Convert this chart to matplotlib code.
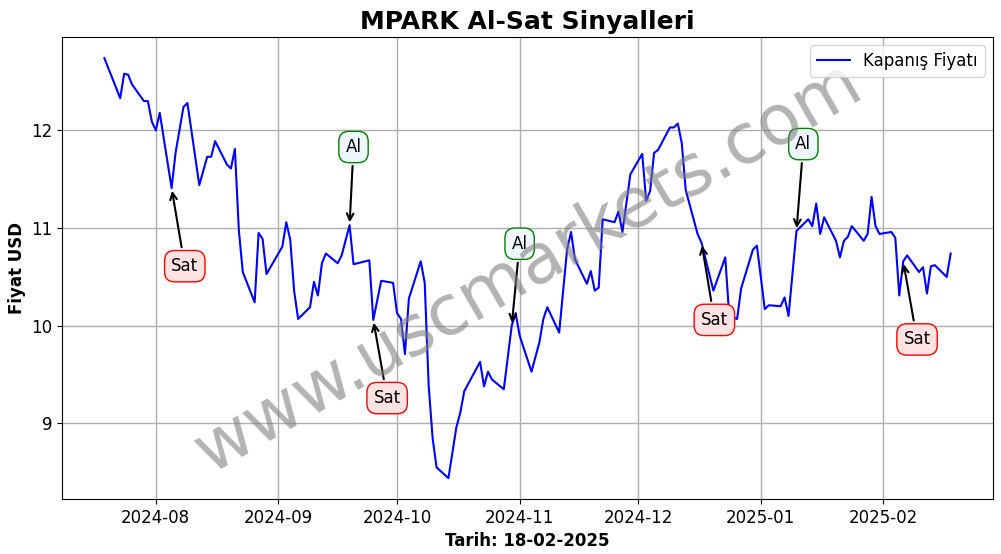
import matplotlib
matplotlib.use("Agg")
import matplotlib.pyplot as plt
import matplotlib.dates as mdates
import pandas as pd

# closing prices
dates = ['2024-07-19', '2024-07-23', '2024-07-24', '2024-07-25', '2024-07-26',
         '2024-07-29', '2024-07-30', '2024-07-31', '2024-08-01', '2024-08-02',
         '2024-08-05', '2024-08-06', '2024-08-08', '2024-08-09', '2024-08-12',
         '2024-08-14', '2024-08-15', '2024-08-16', '2024-08-19', '2024-08-20',
         '2024-08-21', '2024-08-22', '2024-08-23', '2024-08-26', '2024-08-27',
         '2024-08-28', '2024-08-29', '2024-09-02', '2024-09-03', '2024-09-04',
         '2024-09-05', '2024-09-06', '2024-09-09', '2024-09-10', '2024-09-11',
         '2024-09-12', '2024-09-13', '2024-09-16', '2024-09-17', '2024-09-19',
         '2024-09-20', '2024-09-24', '2024-09-25', '2024-09-27', '2024-09-30',
         '2024-10-01', '2024-10-02', '2024-10-03', '2024-10-04', '2024-10-07',
         '2024-10-08', '2024-10-09', '2024-10-10', '2024-10-11', '2024-10-14',
         '2024-10-16', '2024-10-17', '2024-10-18', '2024-10-22', '2024-10-23',
         '2024-10-24', '2024-10-25', '2024-10-28', '2024-10-30', '2024-10-31',
         '2024-11-01', '2024-11-04', '2024-11-06', '2024-11-07', '2024-11-08',
         '2024-11-11', '2024-11-13', '2024-11-14', '2024-11-15', '2024-11-18',
         '2024-11-19', '2024-11-20', '2024-11-21', '2024-11-22', '2024-11-25',
         '2024-11-26', '2024-11-27', '2024-11-29', '2024-12-02', '2024-12-03',
         '2024-12-04', '2024-12-05', '2024-12-06', '2024-12-09', '2024-12-10',
         '2024-12-11', '2024-12-12', '2024-12-13', '2024-12-16', '2024-12-17',
         '2024-12-20', '2024-12-23', '2024-12-24', '2024-12-26', '2024-12-27',
         '2024-12-30', '2024-12-31', '2025-01-02', '2025-01-03', '2025-01-06',
         '2025-01-07', '2025-01-08', '2025-01-10', '2025-01-13', '2025-01-14',
         '2025-01-15', '2025-01-16', '2025-01-17', '2025-01-20', '2025-01-21',
         '2025-01-22', '2025-01-23', '2025-01-24', '2025-01-27', '2025-01-28',
         '2025-01-29', '2025-01-30', '2025-01-31', '2025-02-03', '2025-02-04',
         '2025-02-05', '2025-02-06', '2025-02-07', '2025-02-10', '2025-02-11',
         '2025-02-12', '2025-02-13', '2025-02-14', '2025-02-17', '2025-02-18']
prices = [12.74, 12.33, 12.58, 12.57, 12.47,
          12.30, 12.30, 12.09, 12.00, 12.18,
          11.41, 11.77, 12.24, 12.28, 11.44,
          11.73, 11.73, 11.89, 11.65, 11.61,
          11.81, 10.98, 10.55, 10.24, 10.95,
          10.89, 10.53, 10.81, 11.06, 10.88,
          10.35, 10.07, 10.19, 10.45, 10.31,
          10.64, 10.74, 10.64, 10.72, 11.03,
          10.63, 10.67, 10.06, 10.46, 10.44,
          10.13, 10.07, 9.71, 10.28, 10.66,
          10.44, 9.39, 8.85, 8.55, 8.44,
          8.96, 9.11, 9.33, 9.63, 9.38,
          9.53, 9.45, 9.35, 10.00, 10.13,
          9.90, 9.53, 9.83, 10.07, 10.19,
          9.93, 10.78, 10.96, 10.68, 10.43,
          10.56, 10.36, 10.39, 11.09, 11.06,
          11.17, 10.96, 11.55, 11.76, 11.28,
          11.38, 11.77, 11.80, 12.03, 12.03,
          12.07, 11.87, 11.39, 10.94, 10.85,
          10.36, 10.70, 10.10, 10.07, 10.38,
          10.78, 10.82, 10.17, 10.21, 10.20,
          10.29, 10.10, 10.97, 11.09, 11.02,
          11.25, 10.94, 11.11, 10.87, 10.70,
          10.87, 10.91, 11.02, 10.87, 10.94,
          11.32, 11.02, 10.94, 10.96, 10.90,
          10.31, 10.66, 10.72, 10.55, 10.60,
          10.33, 10.61, 10.62, 10.50, 10.74]

# signals
sig_dates = ['2024-08-05', '2024-09-19', '2024-09-25', '2024-10-30',
             '2024-12-17', '2025-01-10', '2025-02-06']
sig_types = ['Sat', 'Al', 'Sat', 'Al', 'Sat', 'Al', 'Sat']
sig_text_dates = ['2024-08-08 08:00', '2024-09-20 00:00', '2024-09-28 12:00',
                  '2024-11-01 00:00', '2024-12-20 06:00', '2025-01-11 18:00',
                  '2025-02-09 12:00']
sig_text_prices = [10.61, 11.83, 9.26, 10.84, 10.06, 11.86, 9.86]

dt = pd.to_datetime(dates)
price_map = dict(zip(dates, prices))

fig, ax = plt.subplots(figsize=(10.01, 5.54), dpi=100)
fig.subplots_adjust(left=0.062, right=0.992, top=0.933, bottom=0.099)

ax.plot(dt, prices, color='blue', lw=1.5, label='Kapanış Fiyatı')

for d, t, td, tp in zip(sig_dates, sig_types, sig_text_dates, sig_text_prices):
    p = price_map[d]
    if t == 'Al':
        fc, ec = '#eef6ff', 'green'
    else:
        fc, ec = '#ffe2e2', 'red'
    ax.annotate(t, xy=(pd.Timestamp(d), p), xytext=(pd.Timestamp(td), tp),
                fontsize=12, ha='center', va='center',
                arrowprops=dict(arrowstyle='->', color='black', lw=1.5),
                bbox=dict(boxstyle='round,pad=0.4,rounding_size=0.6',
                          fc=fc, ec=ec, lw=1))

ax.text(0.5, 0.5, 'www.uscmarkets.com', transform=ax.transAxes,
        fontsize=50, color='gray', alpha=0.6, rotation=30,
        ha='center', va='center')

ax.xaxis.set_major_locator(mdates.MonthLocator())
ax.xaxis.set_major_formatter(mdates.DateFormatter('%Y-%m'))
ax.tick_params(labelsize=12)
ax.set_title('MPARK Al-Sat Sinyalleri', fontsize=18, fontweight='bold')
ax.set_xlabel('Tarih: 18-02-2025', fontsize=12, fontweight='bold')
ax.set_ylabel('Fiyat USD', fontsize=12, fontweight='bold')
ax.grid(True, color='#b0b0b0', lw=1)
ax.legend(loc='upper right', fontsize=12)

fig.savefig('out.png')
print("done")
